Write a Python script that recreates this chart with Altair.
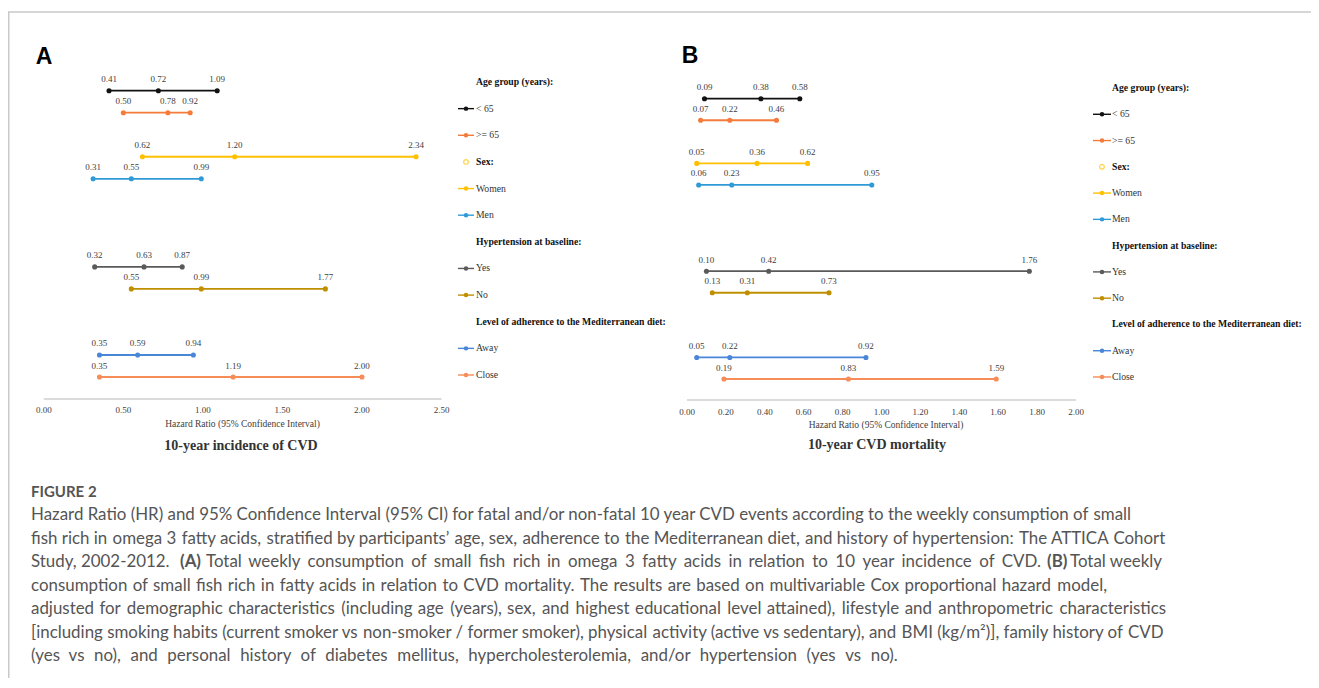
import altair as alt
import pandas as pd

# ---------------- data ----------------
groups = ["< 65", ">= 65", "Women", "Men", "Yes", "No", "Away", "Close"]
slots = ["< 65", ">= 65", "gap1", "Women", "Men", "gap2", "gap3", "gap4",
         "Yes", "No", "gap5", "gap6", "Away", "Close"]

a_low = [0.41, 0.50, 0.62, 0.31, 0.32, 0.55, 0.35, 0.35]
a_hr = [0.72, 0.78, 1.20, 0.55, 0.63, 0.99, 0.59, 1.19]
a_high = [1.09, 0.92, 2.34, 0.99, 0.87, 1.77, 0.94, 2.00]

b_low = [0.09, 0.07, 0.05, 0.06, 0.10, 0.13, 0.05, 0.19]
b_hr = [0.38, 0.22, 0.36, 0.23, 0.42, 0.31, 0.22, 0.83]
b_high = [0.58, 0.46, 0.62, 0.95, 1.76, 0.73, 0.92, 1.59]

ticks_a = [0.0, 0.5, 1.0, 1.5, 2.0, 2.5]
ticks_b = [0.0, 0.2, 0.4, 0.6, 0.8, 1.0, 1.2, 1.4, 1.6, 1.8, 2.0]

legend_labels = ["Age group (years):", "< 65", ">= 65", "Sex:", "Women", "Men",
                 "Hypertension at baseline:", "Yes", "No",
                 "Level of adherence to the Mediterranean diet:", "Away", "Close"]
legend_kind = ["header", "item", "item", "sex", "item", "item",
               "header", "item", "item", "header", "item", "item"]

axis_title = "Hazard Ratio (95% Confidence Interval)"
title_a = "10-year incidence of CVD"
title_b = "10-year CVD mortality"

caption_head = "FIGURE 2"
caption_lines = [
    "Hazard Ratio (HR) and 95% Confidence Interval (95% CI) for fatal and/or non-fatal 10 year CVD events according to the weekly consumption of small",
    "fish rich in omega 3 fatty acids, stratified by participants\u2019 age, sex, adherence to the Mediterranean diet, and history of hypertension: The ATTICA Cohort",
    None,
    "consumption of small fish rich in fatty acids in relation to CVD mortality. The results are based on multivariable Cox proportional hazard model,",
    "adjusted for demographic characteristics (including age (years), sex, and highest educational level attained), lifestyle and anthropometric characteristics",
    "[including smoking habits (current smoker vs non-smoker / former smoker), physical activity (active vs sedentary), and BMI (kg/m\u00b2)], family history of CVD",
    "(yes vs no), and personal history of diabetes mellitus, hypercholesterolemia, and/or hypertension (yes vs no).",
]
line3_parts = ["Study, 2002-2012.", "(A)",
               "Total weekly consumption of small fish rich in omega 3 fatty acids in relation to 10 year incidence of CVD.",
               "(B)", "Total weekly"]

# ---------------- styles ----------------
colors = ["#111111", "#F47B3A", "#FFC000", "#2F9BD6", "#5A5A5A", "#BF8F00", "#4A86D8", "#F68C57"]
SERIF = "Liberation Serif"
SANS = "Liberation Sans"
CAP_FONT = "Lato"
CAP_SIZE = 16.9
CAP_COLOR = "#555555"
HAIR = "\u200a"
# extra word spacing (number of hair spaces) per caption line, as the print is loosely set
line_hairs = [1, 10, None, 23, 25, 4, 69]
part_hairs = [0, 0, 54, 0, 0]

cscale = alt.Scale(domain=groups, range=colors)


def widen(s, n):
    words = s.split(" ")
    gaps = len(words) - 1
    if n <= 0 or gaps <= 0:
        return s
    out = words[0]
    for i in range(gaps):
        k = (n * (i + 1)) // gaps - (n * i) // gaps
        out += " " + HAIR * k + words[i + 1]
    return out


def tdf(s):
    return pd.DataFrame({"t": [s]})


def txt(s, x, y, **kw):
    return alt.Chart(tdf(s)).mark_text(**kw).encode(
        x=alt.value(x), y=alt.value(y), text="t:N")


def panel(low, hr, high, xdom, xr, yr, ticks, axis_y, tick_y):
    seg = pd.DataFrame({"group": groups, "low": low, "hr": hr, "high": high})
    pts = seg.melt(id_vars="group", value_vars=["low", "hr", "high"],
                   var_name="stat", value_name="value")
    xs = alt.Scale(domain=xdom, range=xr, nice=False, zero=False)
    ys = alt.Scale(type="point", domain=slots, range=yr, padding=0)
    yenc = alt.Y("group:N", scale=ys, axis=None)
    cenc = alt.Color("group:N", scale=cscale, legend=None)
    rule = alt.Chart(seg).mark_rule(strokeWidth=1.8).encode(
        x=alt.X("low:Q", scale=xs, axis=None), x2="high:Q", y=yenc, color=cenc)
    dots = alt.Chart(pts).mark_circle(size=26, opacity=1).encode(
        x=alt.X("value:Q", scale=xs, axis=None), y=yenc, color=cenc)
    labels = alt.Chart(pts).mark_text(font=SERIF, fontSize=9, dy=-11.5,
                                      color="#404040", baseline="middle").encode(
        x=alt.X("value:Q", scale=xs, axis=None), y=yenc,
        text=alt.Text("value:Q", format=".2f"))
    ends = pd.DataFrame({"a": [xdom[0]], "b": [xdom[1]]})
    aline = alt.Chart(ends).mark_rule(color="#cfcfcf", strokeWidth=1.3).encode(
        x=alt.X("a:Q", scale=xs, axis=None), x2="b:Q", y=alt.value(axis_y))
    tlab = alt.Chart(pd.DataFrame({"t": ticks})).mark_text(
        font=SERIF, fontSize=9, color="#404040", baseline="middle").encode(
        x=alt.X("t:Q", scale=xs, axis=None), y=alt.value(tick_y),
        text=alt.Text("t:Q", format=".2f"))
    return [rule, dots, labels, aline, tlab]


def legend(xl0, xl1, xtext, yr):
    ld = pd.DataFrame({"label": legend_labels, "kind": legend_kind})
    ys = alt.Scale(type="point", domain=legend_labels, range=yr, padding=0)
    yenc = alt.Y("label:N", scale=ys, axis=None)
    items = ld[ld.kind == "item"]
    sym_line = alt.Chart(items).mark_rule(strokeWidth=1.4).encode(
        x=alt.value(xl0), x2=alt.value(xl1), y=yenc,
        color=alt.Color("label:N", scale=cscale, legend=None))
    sym_dot = alt.Chart(items).mark_circle(size=20, opacity=1).encode(
        x=alt.value((xl0 + xl1) / 2), y=yenc,
        color=alt.Color("label:N", scale=cscale, legend=None))
    sex = ld[ld.kind == "sex"]
    sex_dot = alt.Chart(sex).mark_point(size=22, filled=False, color="#FFC000",
                                        strokeWidth=1.2).encode(
        x=alt.value((xl0 + xl1) / 2), y=yenc)
    item_txt = alt.Chart(items).mark_text(font=SERIF, fontSize=9.7, color="#333333",
                                          align="left", baseline="middle").encode(
        x=alt.value(xtext), y=yenc, text="label:N")
    head_txt = alt.Chart(ld[ld.kind != "item"]).mark_text(
        font=SERIF, fontSize=9.7, fontWeight="bold", color="#111111",
        align="left", baseline="middle").encode(
        x=alt.value(xtext), y=yenc, text="label:N")
    return [sym_line, sym_dot, sex_dot, item_txt, head_txt]


layers = []
# frame
layers.append(alt.Chart(tdf("f")).mark_rule(color="#c9c9c9", strokeWidth=1.5).encode(
    x=alt.value(0), x2=alt.value(1303), y=alt.value(4)))
layers.append(alt.Chart(tdf("f")).mark_rule(color="#c9c9c9", strokeWidth=1.5).encode(
    x=alt.value(0.75), y=alt.value(4), y2=alt.value(670)))

# panels
layers += panel(a_low, a_hr, a_high, [0, 2.5], [35.8, 433.5], [82.7, 369.0],
                ticks_a, 391, 402)
layers += panel(b_low, b_hr, b_high, [0, 2.0], [679, 1068], [90.7, 371.0],
                ticks_b, 392, 403.7)

# legends
layers += legend(450, 466, 468, [74, 367])
layers += legend(1085, 1103, 1104, [80, 369])

# panel letters and titles
layers.append(txt("A", 36, 49, font=SANS, fontSize=23, fontWeight="bold",
                  color="#000000", baseline="middle", align="center"))
layers.append(txt("B", 682, 48, font=SANS, fontSize=23, fontWeight="bold",
                  color="#000000", baseline="middle", align="center"))
layers.append(txt(axis_title, 234.5, 416, font=SERIF, fontSize=9.5,
                  color="#404040", baseline="middle", align="center"))
layers.append(txt(axis_title, 878, 417, font=SERIF, fontSize=9.5,
                  color="#404040", baseline="middle", align="center"))
layers.append(txt(title_a, 233, 438, font=SERIF, fontSize=14, fontWeight="bold",
                  color="#333333", baseline="middle", align="center"))
layers.append(txt(title_b, 869, 437, font=SERIF, fontSize=14, fontWeight="bold",
                  color="#333333", baseline="middle", align="center"))

# caption
layers.append(txt(caption_head, 23, 484, font=CAP_FONT, fontSize=15, fontWeight="bold",
                  color=CAP_COLOR, baseline="middle", align="left"))
cap_y = [507, 530.5, 554, 577.5, 601, 624.5, 648]
for line, yy, h in zip(caption_lines, cap_y, line_hairs):
    if line is not None:
        layers.append(txt(widen(line, h), 23, yy, font=CAP_FONT, fontSize=CAP_SIZE,
                          color=CAP_COLOR, baseline="middle", align="left"))
part_x = [23, 172, 198, 1039, 1062]
part_bold = [False, True, False, True, False]
for s, xx, bb, h in zip(line3_parts, part_x, part_bold, part_hairs):
    layers.append(txt(widen(s, h), xx, cap_y[2], font=CAP_FONT, fontSize=CAP_SIZE,
                      fontWeight="bold" if bb else "normal",
                      color=CAP_COLOR, baseline="middle", align="left"))

chart = alt.layer(*layers).resolve_scale(
    x="independent", y="independent", color="independent"
).properties(
    width=1303, height=670, padding=0,
    autosize=alt.AutoSizeParams(type="none"),
    background="white",
).configure_view(stroke=None)

chart.save("out.html", embed_options={"renderer": "svg", "actions": False})
